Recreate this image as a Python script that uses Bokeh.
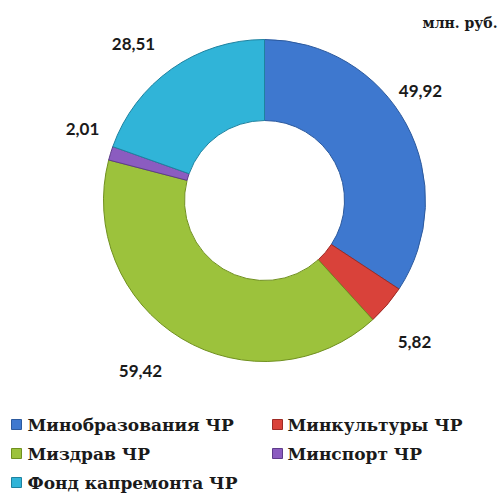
import math
from bokeh.plotting import figure
from bokeh.models import ColumnDataSource, Range1d
from bokeh.core.properties import value
from bokeh.embed import file_html
from bokeh.resources import INLINE

categories = ["Минобразования ЧР", "Минкультуры ЧР", "Миздрав ЧР", "Минспорт ЧР", "Фонд капремонта ЧР"]
values = [49.92, 5.82, 59.42, 2.01, 28.51]
labels = ["49,92", "5,82", "59,42", "2,01", "28,51"]
colors = ["#3E78CF", "#D9423A", "#9CC23C", "#8B5CC0", "#30B4D8"]
edges = ["#2C5A9E", "#9E2A25", "#70901F", "#5E3C8A", "#1E82A0"]
unit = "млн. руб."

W, H = 501, 493
p = figure(width=W, height=H, output_backend="svg", toolbar_location=None,
           x_range=Range1d(0, W), y_range=Range1d(0, H), min_border=0)
p.axis.visible = False
p.grid.visible = False
p.outline_line_color = None
p.background_fill_color = "white"

SERIF = value("DejaVu Serif")

def px(x):
    return x

def py(y):
    return H - y

cx, cy = px(264), py(200)
total = sum(values)
starts, ends = [], []
cum = 0.0
for v in values:
    starts.append(math.pi / 2 - cum / total * 2 * math.pi)
    cum += v
    ends.append(math.pi / 2 - cum / total * 2 * math.pi)

src = ColumnDataSource(dict(start=starts, end=ends, color=colors, edge=edges))
p.annular_wedge(x=cx, y=cy, inner_radius=80, outer_radius=161, start_angle="start",
                end_angle="end", direction="clock", fill_color="color",
                line_color="edge", line_width=1, source=src)

lab_x = [px(v) for v in [420, 414, 140, 82, 133]]
lab_y = [py(v) for v in [90, 341, 370, 128, 43]]
p.text(x=lab_x, y=lab_y, text=labels, text_align="center", text_baseline="middle",
       text_font=value("Lato"), text_font_style="bold", text_font_size="17px",
       text_color="#1a1a1a")

p.text(x=[px(497)], y=[py(22)], text=[unit], text_align="right", text_baseline="middle",
       text_font=SERIF, text_font_style="bold", text_font_size="14px",
       text_color="#1a1a1a")

leg_sq_x = [px(v) for v in [16, 277, 16, 277, 16]]
leg_y = [py(v) for v in [424, 424, 453, 453, 482]]
leg_tx = [px(v) for v in [27, 287, 27, 287, 27]]
p.rect(x=leg_sq_x, y=leg_y, width=10, height=10, fill_color=colors, line_color=edges)
p.text(x=leg_tx, y=leg_y, text=categories, text_align="left", text_baseline="middle",
       text_font=SERIF, text_font_style="bold", text_font_size="17px",
       text_color="#1a1a1a")

open("out.html", "w").write(file_html(p, INLINE))
